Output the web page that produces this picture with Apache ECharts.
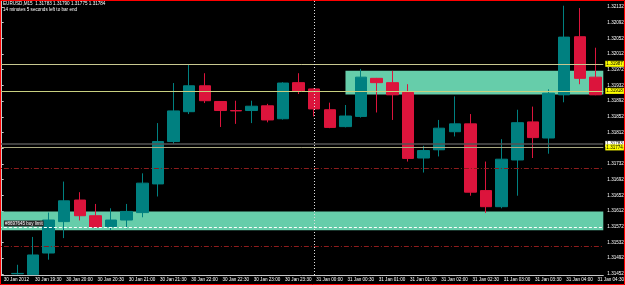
<!DOCTYPE html>
<html><head><meta charset="utf-8">
<script src="https://cdn.jsdelivr.net/npm/echarts@6/dist/echarts.min.js"></script>
<style>html,body{margin:0;padding:0;background:#000;}#c{width:625px;height:285px;}</style>
</head><body><div id="c"></div>
<script>
const categories = ['30 Jan 19:00','30 Jan 19:15','30 Jan 19:30','30 Jan 19:45','30 Jan 20:00','30 Jan 20:15','30 Jan 20:30','30 Jan 20:45',
  '30 Jan 21:00','30 Jan 21:15','30 Jan 21:30','30 Jan 21:45','30 Jan 22:00','30 Jan 22:15','30 Jan 22:30','30 Jan 22:45',
  '30 Jan 23:00','30 Jan 23:15','30 Jan 23:30','30 Jan 23:45','31 Jan 00:00','31 Jan 00:15','31 Jan 00:30','31 Jan 00:45',
  '31 Jan 01:00','31 Jan 01:15','31 Jan 01:30','31 Jan 01:45','31 Jan 02:00','31 Jan 02:15','31 Jan 02:30','31 Jan 02:45',
  '31 Jan 03:00','31 Jan 03:15','31 Jan 03:30','31 Jan 03:45','31 Jan 04:00','31 Jan 04:15','31 Jan 04:30'];
const opens  = [null,1.31452,1.31450,1.31505,1.31585,1.31640,1.31600,1.31572,1.31589,1.31608,1.31681,1.31789,1.31865,1.31931,1.31891,1.31868,
  1.31868,1.31880,1.31847,1.31939,1.31923,1.31870,1.31827,1.31853,1.31950,1.31939,1.31914,1.31747,1.31768,1.31814,1.31834,1.31664,
  1.31623,1.31742,1.31839,1.31798,1.31908,1.32056,1.31953];
const closes = [null,1.31453,1.31500,1.31589,1.31638,1.31600,1.31571,1.31589,1.31611,1.31683,1.31789,1.31867,1.31931,1.31893,1.31868,1.31867,
  1.31879,1.31844,1.31938,1.31918,1.31872,1.31825,1.31854,1.31953,1.31939,1.31908,1.31746,1.31766,1.31823,1.31834,1.31660,1.31623,
  1.31744,1.31837,1.31799,1.31912,1.32055,1.31950,1.31908];
const lows   = [null,1.31450,1.31449,1.31488,1.31543,1.31588,1.31568,1.31564,1.31568,1.31596,1.31649,1.31783,1.31859,1.31887,1.31826,1.31834,
  1.31836,1.31838,1.31845,1.31910,1.31853,1.31823,1.31825,1.31850,1.31863,1.31844,1.31738,1.31710,1.31751,1.31802,1.31651,1.31607,
  1.31619,1.31651,1.31747,1.31758,1.31889,1.31935,1.31907];
const highs  = [null,1.31475,1.31546,1.31608,1.31687,1.31660,1.31630,1.31619,1.31630,1.31708,1.31836,1.31938,1.31986,1.31963,1.31891,1.31893,
  1.31893,1.31885,1.31940,1.31963,1.31925,1.31888,1.31882,1.31974,1.31951,1.31969,1.31935,1.31778,1.31844,1.31904,1.31859,1.31738,
  1.31795,1.31870,1.31878,1.31922,1.32135,1.32129,1.32028];
const xTickLabels = ['30 Jan 2012','30 Jan 19:30','30 Jan 20:00','30 Jan 20:30','30 Jan 21:00','30 Jan 21:30','30 Jan 22:00','30 Jan 22:30',
  '30 Jan 23:00','30 Jan 23:30','31 Jan 00:00','31 Jan 00:30','31 Jan 01:00','31 Jan 01:30','31 Jan 02:00','31 Jan 02:30',
  '31 Jan 03:00','31 Jan 03:30','31 Jan 04:00','31 Jan 04:30'];
const yTickValues = [1.31452,1.31492,1.31532,1.31572,1.31612,1.31652,1.31692,1.31732,1.31772,1.31812,1.31852,1.31892,1.31932,1.31972,1.32012,1.32052,1.32092,1.32132];
const levelUpper1 = 1.31987, levelUpper2 = 1.31918, levelGray = 1.31783, levelKhaki = 1.31774;
const levelRed1 = 1.31721, levelRed2 = 1.31521, levelBuyLimit = 1.31570;
const zoneUpper = [1.31909, 1.31969];
const zoneLower = [1.31563, 1.31611];
const zoneUpperStart = 22;   // bar index where upper zone begins
const vLineIndex = 20;       // 31 Jan 00:00
const titleLine1 = 'EURUSD,M15  1.31783 1.31790 1.31775 1.31784';
const titleLine2 = '14 minutes 5 seconds left to bar end';

const candleData = categories.map((c, i) => opens[i] == null ? '-' : [opens[i], closes[i], lows[i], highs[i]]);
const n = categories.length;
const FONT = 'Liberation Sans, Arial, sans-serif';

function hLabel(bg, fg) {
  return {show: true, position: 'end', distance: 2, formatter: p => Number(p.value).toFixed(5),
    backgroundColor: bg, color: fg, fontSize: 4.6, fontFamily: FONT, padding: [1, 1, 0, 1]};
}

const chart = echarts.init(document.getElementById('c'));
chart.setOption({
  backgroundColor: '#000',
  animation: false,
  title: {text: titleLine1, subtext: titleLine2, left: 3, top: 1, itemGap: 1, padding: 0,
    textStyle: {color: '#fff', fontSize: 4.6, fontWeight: 'normal', fontFamily: FONT},
    subtextStyle: {color: '#fff', fontSize: 4.6, fontFamily: FONT}},
  grid: {left: -6.1, right: 21.7, top: 1, bottom: 10, containLabel: false, outerBoundsMode: 'none'},
  xAxis: [{
    type: 'category', data: categories, boundaryGap: true,
    axisLine: {lineStyle: {color: '#c8c8c8', width: 1}},
    axisTick: {interval: 1, alignWithLabel: true, length: 2, lineStyle: {color: '#c8c8c8'}},
    axisLabel: {interval: 1, align: 'left', margin: 2, padding: [0, 0, 0, 2], color: '#fff', fontSize: 4.6, fontFamily: FONT,
      formatter: (v, idx) => xTickLabels[Math.round(idx / 2)]},
    splitLine: {show: false}
  }, {
    type: 'value', min: -0.5, max: n - 0.5, show: false
  }],
  yAxis: {
    type: 'value', position: 'right', min: 1.31449, max: 1.32147, offset: 2, scale: true,
    axisLine: {show: true, lineStyle: {color: '#c8c8c8'}},
    axisTick: {show: true, length: 2, customValues: yTickValues, lineStyle: {color: '#c8c8c8'}},
    axisLabel: {customValues: yTickValues, formatter: v => v.toFixed(5), color: '#fff', fontSize: 4.6, fontFamily: FONT, margin: 2},
    splitLine: {show: false}
  },
  series: [{
    type: 'line', xAxisIndex: 1, data: [], z: 1, silent: true,
    markArea: {silent: true, itemStyle: {color: '#66cdaa'},
      data: [
        [{xAxis: zoneUpperStart, yAxis: zoneUpper[1]}, {xAxis: n - 0.5, yAxis: zoneUpper[0]}],
        [{xAxis: -0.5, yAxis: zoneLower[1]}, {xAxis: n - 0.5, yAxis: zoneLower[0]}]
      ]}
  }, {
    type: 'candlestick', data: candleData, barWidth: 12, z: 2,
    itemStyle: {color: '#008080', color0: '#dc143c', borderColor: '#008080', borderColor0: '#dc143c', borderWidth: 1},
    markLine: {silent: true, symbol: 'none', animation: false, precision: 5,
      data: [
        {yAxis: levelRed1, lineStyle: {color: '#8c1c1c', width: 1, type: [5, 2, 1, 2]}, label: {show: false}},
        {yAxis: levelRed2, lineStyle: {color: '#8c1c1c', width: 1, type: [5, 2, 1, 2]}, label: {show: false}},
        {yAxis: levelGray, lineStyle: {color: '#555555', width: 1.5, type: 'solid'}, label: hLabel('#ffffff', '#000')},
        {yAxis: levelKhaki, lineStyle: {color: '#a8a880', width: 1, type: 'solid'}, label: hLabel('#ffff00', '#000')},
        {yAxis: levelUpper1, lineStyle: {color: '#c8c890', width: 1, type: 'solid'}, label: hLabel('#ffff00', '#000')},
        {yAxis: levelUpper2, lineStyle: {color: '#c8d080', width: 1, type: 'solid'}, label: hLabel('#ffff00', '#000')},
        {yAxis: levelBuyLimit, lineStyle: {color: '#ffffff', width: 1, type: [3, 2]},
          label: {show: true, position: 'insideStartTop', distance: 1, offset: [9, 0], formatter: '#8697645 buy limit',
            backgroundColor: '#2a2a2a', color: '#fff', fontSize: 4.5, fontFamily: FONT, padding: [1, 1, 0, 1]}},
        {xAxis: vLineIndex, lineStyle: {color: '#e0e0e0', width: 1, type: [1, 2]}, label: {show: false}}
      ]}
  }],
  graphic: [{type: 'rect', z: 100, silent: true, shape: {x: 0.5, y: 0.5, width: 624, height: 284},
    style: {fill: null, stroke: '#ff0000', lineWidth: 1}}]
});
</script></body></html>
